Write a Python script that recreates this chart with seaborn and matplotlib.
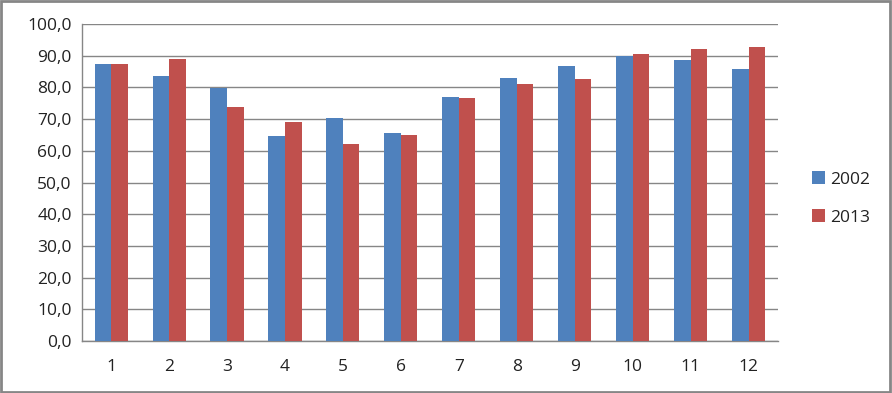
import pandas as pd
import matplotlib
matplotlib.use("Agg")
import matplotlib.pyplot as plt
import seaborn as sns
from matplotlib.ticker import FuncFormatter, FixedLocator
from matplotlib.patches import Rectangle

# valores
meses = [1, 2, 3, 4, 5, 6, 7, 8, 9, 10, 11, 12]
valores_2002 = [87.3, 83.5, 79.9, 64.6, 70.3, 65.5, 76.9, 82.9, 86.7, 89.9, 88.5, 85.7]
valores_2013 = [87.3, 88.9, 73.7, 69.0, 62.1, 64.9, 76.6, 81.0, 82.5, 90.4, 92.0, 92.6]
series = ["2002", "2013"]

df = pd.DataFrame({
    "mes": [str(m) for m in meses] * 2,
    "valor": valores_2002 + valores_2013,
    "ano": [series[0]] * len(meses) + [series[1]] * len(meses),
})

sns.set_style("white")
plt.rcParams["font.family"] = ["Open Sans", "DejaVu Sans"]

fig = plt.figure(figsize=(8.92, 3.93), dpi=100)
ax = fig.add_axes([0.092, 0.132, 0.78, 0.807])

cores = {"2002": "#4F81BD", "2013": "#C0504D"}
sns.barplot(data=df, x="mes", y="valor", hue="ano", palette=cores,
            width=0.57, gap=0, saturation=1, linewidth=0, ax=ax, zorder=3)

cinza = "#868686"
ax.set_ylim(0, 100)
ax.set_xlim(-0.5, 11.5)
ax.set_yticks(range(0, 101, 10))
ax.yaxis.set_major_formatter(FuncFormatter(lambda v, p: f"{v:.1f}".replace(".", ",")))
ax.grid(axis="y", color=cinza, linewidth=1, zorder=0)
ax.set_axisbelow(True)
ax.set_xlabel("")
ax.set_ylabel("")

for lado in ["top", "right"]:
    ax.spines[lado].set_visible(False)
for lado in ["left", "bottom"]:
    ax.spines[lado].set_color(cinza)
    ax.spines[lado].set_linewidth(1)

ax.tick_params(axis="y", length=4.5, color=cinza, width=1, labelsize=12.5, pad=3,
               labelcolor="#222222")
ax.tick_params(axis="x", which="major", length=0, labelsize=12.5, pad=13,
               labelcolor="#222222")
ax.xaxis.set_minor_locator(FixedLocator([i - 0.5 for i in range(13)]))
ax.tick_params(axis="x", which="minor", length=4.5, color=cinza, width=1)

handles, labels = ax.get_legend_handles_labels()
ax.legend(handles, labels, loc="center left", bbox_to_anchor=(0.893, 0.495),
          bbox_transform=fig.transFigure, frameon=False, fontsize=12.5,
          handlelength=0.75, handleheight=0.75, handletextpad=0.3, labelspacing=1.25,
          labelcolor="#222222")

# moldura em volta da figura
fig.patches.append(Rectangle((0.001, 0.002), 0.997, 0.995, transform=fig.transFigure,
                             fill=False, edgecolor=cinza, linewidth=2))

fig.savefig("out.png", dpi=100)
